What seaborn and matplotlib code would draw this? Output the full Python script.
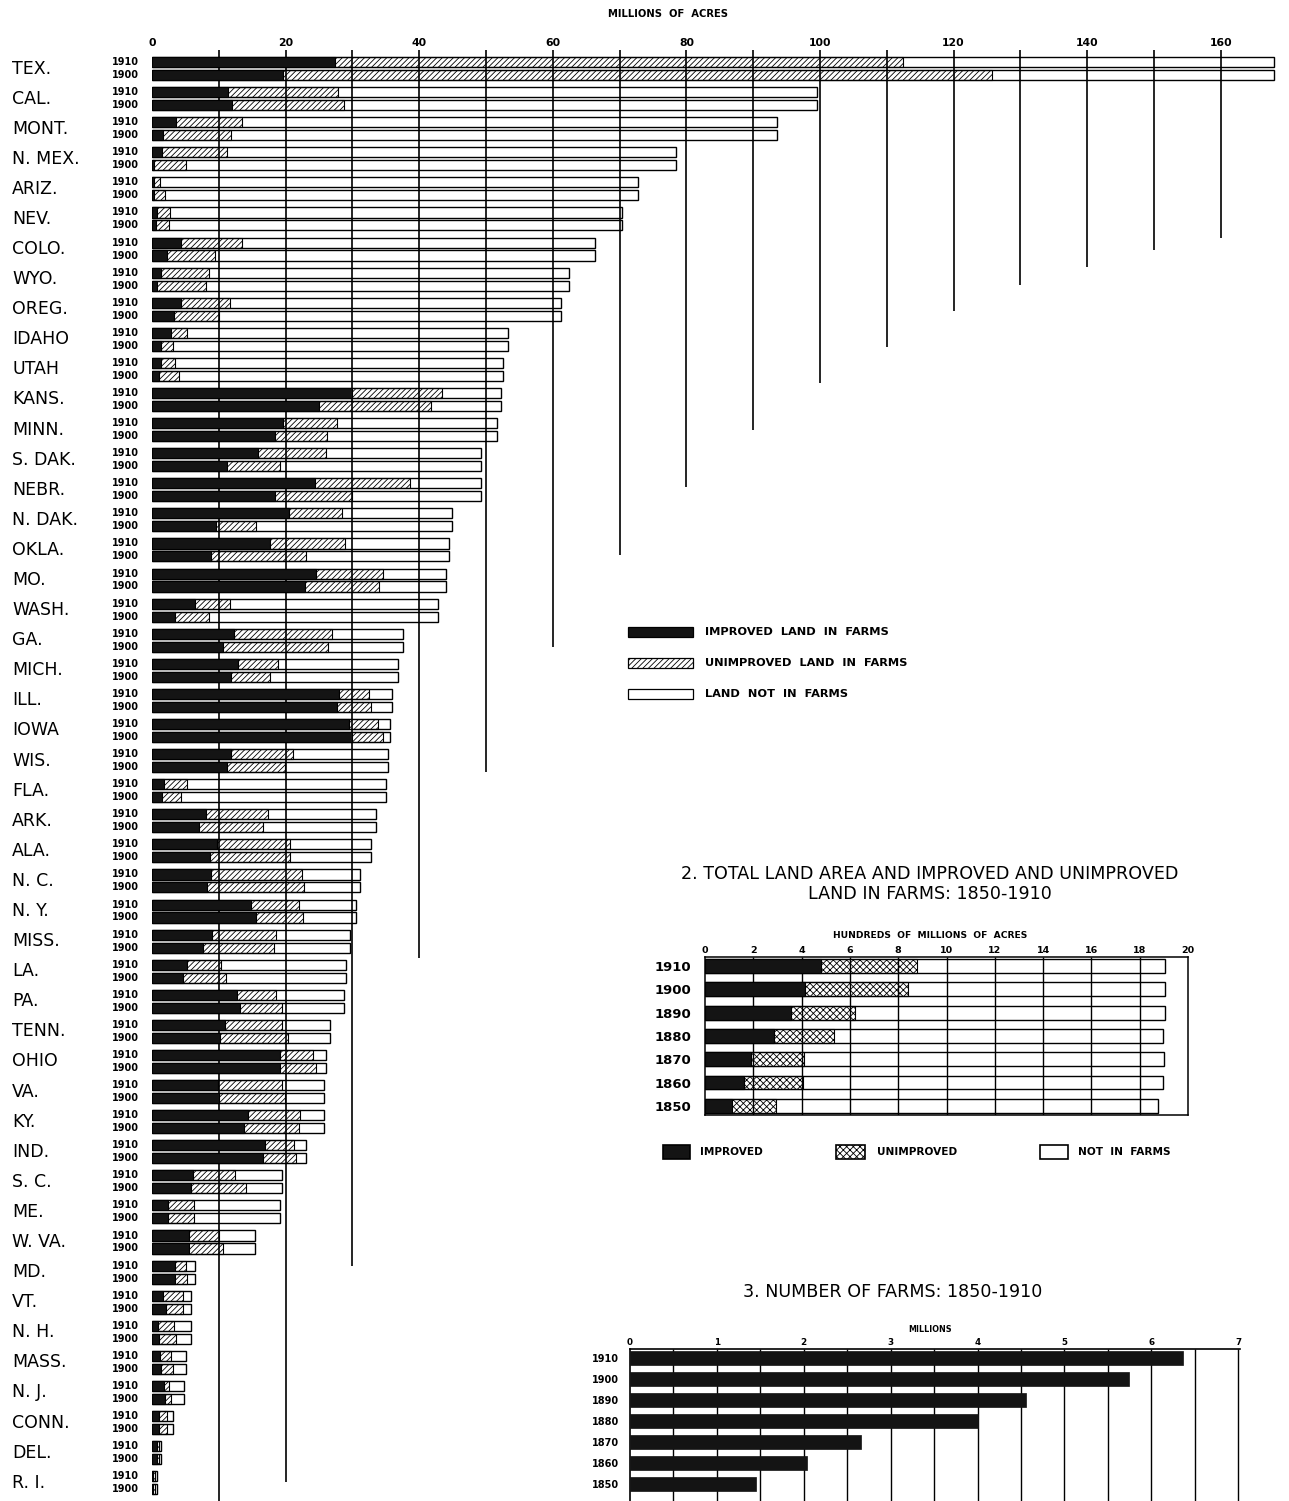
import numpy as np
import pandas as pd
import matplotlib
matplotlib.use("Agg")
import matplotlib.pyplot as plt
import seaborn as sns
from matplotlib.patches import Rectangle
from matplotlib.transforms import blended_transform_factory
from matplotlib import font_manager

# ---------------- data ----------------
states = ["TEX.", "CAL.", "MONT.", "N. MEX.", "ARIZ.", "NEV.", "COLO.", "WYO.", "OREG.",
          "IDAHO", "UTAH", "KANS.", "MINN.", "S. DAK.", "NEBR.", "N. DAK.", "OKLA.", "MO.",
          "WASH.", "GA.", "MICH.", "ILL.", "IOWA", "WIS.", "FLA.", "ARK.", "ALA.", "N. C.",
          "N. Y.", "MISS.", "LA.", "PA.", "TENN.", "OHIO", "VA.", "KY.", "IND.", "S. C.",
          "ME.", "W. VA.", "MD.", "VT.", "N. H.", "MASS.", "N. J.", "CONN.", "DEL.", "R. I."]
land_area = [167.9, 99.6, 93.6, 78.4, 72.8, 70.3, 66.3, 62.4, 61.2, 53.3, 52.6, 52.3, 51.7,
             49.2, 49.2, 44.9, 44.4, 44.0, 42.8, 37.6, 36.8, 36.0, 35.6, 35.4, 35.1, 33.6,
             32.8, 31.2, 30.5, 29.7, 29.1, 28.7, 26.7, 26.1, 25.8, 25.7, 23.1, 19.5, 19.1,
             15.4, 6.4, 5.8, 5.8, 5.1, 4.8, 3.1, 1.3, 0.7]
farm_1910 = [112.4, 27.9, 13.5, 11.3, 1.25, 2.7, 13.5, 8.5, 11.7, 5.3, 3.4, 43.4, 27.7,
             26.0, 38.6, 28.4, 28.9, 34.6, 11.7, 27.0, 18.9, 32.5, 33.9, 21.1, 5.3, 17.4,
             20.7, 22.4, 22.0, 18.6, 10.4, 18.6, 19.5, 24.1, 19.5, 22.2, 21.3, 12.4, 6.3,
             10.0, 5.1, 4.7, 3.3, 2.9, 2.6, 2.2, 1.04, 0.44]
improved_1910 = [27.4, 11.4, 3.6, 1.5, 0.35, 0.75, 4.3, 1.3, 4.3, 2.8, 1.4, 29.9, 19.6,
                 15.8, 24.4, 20.5, 17.6, 24.6, 6.4, 12.3, 12.8, 28.0, 29.5, 11.9, 1.8, 8.1,
                 9.7, 8.8, 14.8, 9.0, 5.3, 12.7, 10.9, 19.2, 9.9, 14.4, 16.9, 6.1, 2.4,
                 5.5, 3.4, 1.6, 0.9, 1.2, 1.8, 1.0, 0.71, 0.18]
farm_1900 = [125.8, 28.8, 11.8, 5.1, 1.9, 2.6, 9.5, 8.1, 10.1, 3.2, 4.1, 41.7, 26.2,
             19.1, 29.9, 15.5, 23.0, 34.0, 8.5, 26.4, 17.6, 32.8, 34.6, 19.9, 4.4, 16.6,
             20.7, 22.7, 22.6, 18.2, 11.1, 19.4, 20.3, 24.5, 19.9, 22.0, 21.6, 14.0, 6.3,
             10.7, 5.2, 4.7, 3.6, 3.1, 2.8, 2.3, 1.07, 0.46]
improved_1900 = [19.6, 12.0, 1.7, 0.3, 0.25, 0.57, 2.3, 0.8, 3.3, 1.4, 1.0, 25.0, 18.4,
                 11.3, 18.4, 9.6, 8.8, 22.9, 3.5, 10.6, 11.8, 27.7, 29.9, 11.2, 1.5, 7.0,
                 8.7, 8.3, 15.6, 7.6, 4.7, 13.2, 10.2, 19.2, 10.1, 13.7, 16.6, 5.8, 2.4,
                 5.5, 3.5, 2.1, 1.1, 1.3, 2.0, 1.1, 0.75, 0.19]
year_pair = ["1910", "1900"]
main_ticks = [0, 20, 40, 60, 80, 100, 120, 140, 160]
grid_values = [10, 20, 30, 40, 50, 60, 70, 80, 90, 100, 110, 120, 130, 140, 150, 160]

us_years = ["1910", "1900", "1890", "1880", "1870", "1860", "1850"]
us_land_area = [19.03, 19.03, 19.03, 18.97, 19.0, 18.95, 18.75]
us_farm_land = [8.79, 8.39, 6.23, 5.36, 4.08, 4.07, 2.94]
us_improved = [4.79, 4.14, 3.58, 2.85, 1.89, 1.63, 1.13]
us_ticks = [0, 2, 4, 6, 8, 10, 12, 14, 16, 18, 20]

farms_millions = [6.36, 5.74, 4.56, 4.01, 2.66, 2.04, 1.45]
farm_ticks = [0, 1, 2, 3, 4, 5, 6, 7]

# ---------------- style ----------------
sns.set_theme(style="white")
plt.rcParams["font.family"] = ["DejaVu Sans"]
for key in ("text.color", "axes.labelcolor", "xtick.color", "ytick.color"):
    plt.rcParams[key] = "black"
plt.rcParams["hatch.linewidth"] = 0.6
plt.rcParams["hatch.color"] = "black"
avail = {f.name for f in font_manager.fontManager.ttflist}
narrow = "Liberation Sans Narrow" if "Liberation Sans Narrow" in avail else "DejaVu Sans"
narrow_size = 14.5 if narrow == "Liberation Sans Narrow" else 12.6

W, H = 1289, 1501
def fx(p):
    return p / W
def fy(p):
    return 1 - p / H

BLACK = "#141414"
fig = plt.figure(figsize=(W / 100, H / 100), dpi=100)
fig.patch.set_facecolor("white")

# ---------------- main chart ----------------
x0_px, ppu = 152, 6.68
xmax = (W - x0_px) / ppu
top_px = 50
row0, rowh = 68.5, 30.09
ytop = (top_px - row0) / rowh
ybot = (H - row0) / rowh

ax = fig.add_axes([fx(x0_px), 0, 1 - fx(x0_px), fy(top_px)])
ax.set_facecolor("none")

rows = []
for s, la, f10, i10, f00, i00 in zip(states, land_area, farm_1910, improved_1910,
                                      farm_1900, improved_1900):
    rows.append(dict(state=s, year="1910", land=la, farm=f10, improved=i10))
    rows.append(dict(state=s, year="1900", land=la, farm=f00, improved=i00))
df = pd.DataFrame(rows)

def layer(axx, data, col, face, yname, order, hue=True, hatch=None, z=2, lw=1.0,
          width=0.86, gap=0.22):
    n0 = len(axx.patches)
    kw = dict(data=data, x=col, y=yname, order=order, orient="h", errorbar=None,
              saturation=1, edgecolor="black", linewidth=lw, ax=axx, width=width)
    if hue:
        kw.update(hue="year", hue_order=year_pair, dodge=True, gap=gap,
                  palette={y: (face if face != "none" else "white") for y in year_pair},
                  legend=False)
    else:
        kw.update(color=(face if face != "none" else "white"))
    sns.barplot(**kw)
    for p in axx.patches[n0:]:
        if face == "none":
            p.set_facecolor("none")
        if hatch:
            p.set_hatch(hatch)
        p.set_zorder(z)

layer(ax, df, "land", "none", "state", states, z=2, lw=1.0)
layer(ax, df, "farm", "none", "state", states, hatch="//////", z=2.2, lw=0.8)
layer(ax, df, "improved", BLACK, "state", states, z=3, lw=0.8)

grid_end_rows = [ybot, 46.98, 39.8, 29.56, 23.38, 19.23, 16.17, 13.91, 12.01, 10.45,
                 9.26, 8.06, 7.19, 6.60, 6.03, 5.63]
for gv, ge in zip(grid_values, grid_end_rows):
    ax.vlines(gv, ytop, ge, color="black", lw=1.2, zorder=1.5)

ax.set_xlim(0, xmax)
ax.set_ylim(ybot, ytop)
for sp in ax.spines.values():
    sp.set_visible(False)
ax.set_xlabel("")
ax.set_ylabel("")
ax.set_yticks([])
ax.xaxis.tick_top()
ax.set_xticks(main_ticks)
ax.set_xticklabels([str(t) for t in main_ticks], fontsize=7.8, fontweight="bold")
ax.tick_params(axis="x", length=0, pad=1.5)

trans = blended_transform_factory(fig.transFigure, ax.transData)
for i, s in enumerate(states):
    ax.text(fx(12), i, s, transform=trans, ha="left", va="center", fontsize=12.5,
            color="black")
    ax.text(fx(112), i - 0.215, "1910", transform=trans, ha="left", va="center",
            fontsize=7, fontweight="bold")
    ax.text(fx(112), i + 0.215, "1900", transform=trans, ha="left", va="center",
            fontsize=7, fontweight="bold")

fig.text(fx(668), fy(14), "MILLIONS  OF  ACRES", ha="center", va="center",
         fontsize=7.2, fontweight="bold")

# legend of main chart
leg_items = [("IMPROVED  LAND  IN  FARMS", BLACK, None),
             ("UNIMPROVED  LAND  IN  FARMS", "none", "//////"),
             ("LAND  NOT  IN  FARMS", "none", None)]
for k, (lab, fc, hh) in enumerate(leg_items):
    yc = 632 + 31 * k
    r = Rectangle((fx(628), fy(yc + 5)), fx(693) - fx(628), 10 / H, transform=fig.transFigure,
                  facecolor=fc, edgecolor="black", lw=0.9, hatch=hh)
    fig.patches.append(r)
    fig.text(fx(705), fy(yc), lab, ha="left", va="center", fontsize=8.2, fontweight="bold")

# ---------------- chart 2 ----------------
fig.text(fx(930), fy(874), "2. TOTAL LAND AREA AND IMPROVED AND UNIMPROVED",
         ha="center", va="center", fontsize=narrow_size, family=[narrow, "DejaVu Sans"])
fig.text(fx(930), fy(894), "LAND IN FARMS: 1850-1910",
         ha="center", va="center", fontsize=narrow_size, family=[narrow, "DejaVu Sans"])
fig.text(fx(930), fy(935), "HUNDREDS  OF  MILLIONS  OF  ACRES", ha="center", va="center",
         fontsize=6.6, fontweight="bold")

ax2_top, ax2_bot = 957, 1115
ax2 = fig.add_axes([fx(705), fy(ax2_bot), fx(1188) - fx(705), (ax2_bot - ax2_top) / H])
df2 = pd.DataFrame(dict(year=us_years, land=us_land_area, farm=us_farm_land,
                        improved=us_improved))
layer(ax2, df2, "land", "none", "year", us_years, hue=False, z=2, lw=1.0, width=0.6)
layer(ax2, df2, "farm", "none", "year", us_years, hue=False, hatch="xxxxx", z=2.2, lw=0.8,
      width=0.6)
layer(ax2, df2, "improved", BLACK, "year", us_years, hue=False, z=3, lw=0.8, width=0.6)
r0, rs = 966, 23.3
ax2.set_ylim((ax2_bot - r0) / rs, (ax2_top - r0) / rs)
ax2.set_xlim(0, 20)
ax2.vlines(us_ticks[1:-1], (ax2_bot - r0) / rs, (ax2_top - r0) / rs, color="black",
           lw=1.0, zorder=1.5)
for sp in ax2.spines.values():
    sp.set_visible(True)
    sp.set_color("black")
    sp.set_linewidth(1.1)
ax2.set_xlabel("")
ax2.set_ylabel("")
ax2.xaxis.tick_top()
ax2.set_xticks(us_ticks)
ax2.set_xticklabels([str(t) for t in us_ticks], fontsize=6.8, fontweight="bold")
ax2.tick_params(axis="x", length=0, pad=1.5)
ax2.tick_params(axis="y", length=0, pad=10)
for t in ax2.get_yticklabels():
    t.set_fontsize(9.5)
    t.set_fontweight("bold")

leg2 = [("IMPROVED", BLACK, None, 663, 690, 700),
        ("UNIMPROVED", "none", "xxxxx", 836, 865, 877),
        ("NOT  IN  FARMS", "none", None, 1040, 1068, 1078)]
for lab, fc, hh, xa, xb, xt in leg2:
    r = Rectangle((fx(xa), fy(1159)), fx(xb) - fx(xa), 14 / H, transform=fig.transFigure,
                  facecolor=fc, edgecolor="black", lw=1.2, hatch=hh)
    fig.patches.append(r)
    fig.text(fx(xt), fy(1152), lab, ha="left", va="center", fontsize=7.6,
             fontweight="bold")

# ---------------- chart 3 ----------------
fig.text(fx(893), fy(1292), "3. NUMBER OF FARMS: 1850-1910", ha="center", va="center",
         fontsize=narrow_size * 1.0, family=[narrow, "DejaVu Sans"])
fig.text(fx(930), fy(1329), "MILLIONS", ha="center", va="center", fontsize=5.8,
         fontweight="bold")
ax3_top = 1349
ax3 = fig.add_axes([fx(630), 0, fx(1240) - fx(630), (H - ax3_top) / H])
df3 = pd.DataFrame(dict(year=us_years, farms=farms_millions))
sns.barplot(data=df3, x="farms", y="year", order=us_years, orient="h", color=BLACK,
            saturation=1, errorbar=None, width=0.7, ax=ax3, edgecolor=BLACK, linewidth=0.5)
for p in ax3.patches:
    p.set_zorder(3)
f0, fs = 1358, 21.0
ax3.set_ylim((H - f0) / fs, (ax3_top - f0) / fs)
ax3.set_xlim(0, 7.02)
ax3.vlines(np.arange(0.5, 7.01, 0.5), (H - f0) / fs, (ax3_top - f0) / fs, color="black",
           lw=1.0, zorder=1.5)
for name, sp in ax3.spines.items():
    sp.set_visible(name in ("top", "left"))
    sp.set_color("black")
    sp.set_linewidth(1.2)
ax3.set_xlabel("")
ax3.set_ylabel("")
ax3.xaxis.tick_top()
ax3.set_xticks(farm_ticks)
ax3.set_xticklabels([str(t) for t in farm_ticks], fontsize=6.3, fontweight="bold")
ax3.tick_params(axis="x", length=0, pad=1.5)
ax3.tick_params(axis="y", length=0, pad=8)
for t in ax3.get_yticklabels():
    t.set_fontsize(7)
    t.set_fontweight("bold")

fig.savefig("out.png", dpi=100, facecolor="white")
